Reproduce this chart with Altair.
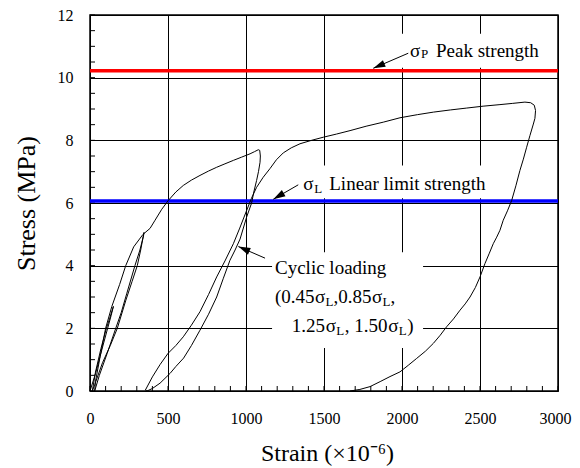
import math
import altair as alt
import pandas as pd

# ---------------- data ----------------
strain = [0, 35, 75, 113, 135, 150,
          145, 125, 105, 70, 35, 15,
          30, 80, 130, 175, 230, 270, 303, 325, 346,
          343, 320, 288, 235, 200, 165, 110, 60, 30,
          35, 65, 100, 140, 190, 229, 280, 340, 385, 417, 460, 502, 550, 598, 650, 705, 760, 812, 865, 919, 970, 1026, 1055, 1079,
          1088, 1092, 1090, 1080, 1068, 1050, 1036, 1004, 962, 930, 897, 855, 812, 760, 705, 650, 600, 550, 513, 449, 400, 365,
          355, 400, 450, 500, 550, 598, 650, 705, 760, 812, 865, 919, 960, 1004, 1035, 1068, 1110, 1154, 1195, 1239, 1290, 1346,
          1420, 1496, 1580, 1667, 1770, 1880, 1987, 2100, 2201, 2310, 2415, 2520, 2628, 2710, 2788, 2825, 2848, 2856, 2852, 2842,
          2820, 2799, 2778, 2756, 2730, 2703, 2676, 2649, 2628, 2607, 2585, 2560, 2532, 2500, 2470, 2436, 2405, 2372, 2330, 2286,
          2245, 2201, 2150, 2094, 2040, 1987, 1923, 1860, 1795, 1730, 1667]
stress = [0, 0.55, 1.3, 2.0, 2.4, 2.7,
          2.62, 2.3, 2.0, 1.35, 0.6, 0,
          0.2, 0.9, 1.45, 2.0, 2.9, 3.5, 4.0, 4.5, 5.06,
          4.95, 4.5, 4.0, 3.1, 2.5, 2.0, 1.2, 0.5, 0,
          0.3, 1.1, 2.0, 2.7, 3.4, 4.0, 4.6, 5.0, 5.19, 5.45, 5.8, 6.08, 6.35, 6.56, 6.73, 6.88, 7.02, 7.14, 7.25, 7.36, 7.46, 7.57, 7.64, 7.7,
          7.68, 7.5, 7.3, 7.0, 6.72, 6.35, 6.0, 5.55, 4.85, 4.5, 4.17, 3.6, 3.0, 2.45, 1.94, 1.45, 1.05, 0.78, 0.56, 0.25, 0.08, 0,
          0.03, 0.45, 0.85, 1.2, 1.45, 1.73, 2.1, 2.53, 3.08, 3.64, 4.15, 4.7, 5.2, 5.76, 6.15, 6.5, 6.82, 7.1, 7.38, 7.6, 7.76, 7.89,
          8.0, 8.1, 8.2, 8.31, 8.45, 8.58, 8.72, 8.82, 8.9, 8.97, 9.03, 9.09, 9.14, 9.18, 9.22, 9.2, 9.12, 8.95, 8.7, 8.52,
          8.15, 7.78, 7.4, 7.04, 6.55, 6.08, 5.75, 5.45, 5.13, 4.91, 4.7, 4.4, 4.07, 3.64, 3.3, 3.0, 2.78, 2.58, 2.3, 2.05,
          1.78, 1.52, 1.27, 1.04, 0.82, 0.61, 0.46, 0.3, 0.14, 0.05, 0]

x_ticks = [0, 500, 1000, 1500, 2000, 2500, 3000]
y_ticks = [0, 2, 4, 6, 8, 10, 12]
x_minor = list(range(0, 3001, 100))
y_minor = [i * 0.5 for i in range(25)]

peak_strength = 10.22
linear_limit = 6.06

# white label boxes (data units)
box_x1 = [1974, 1320, 1167]
box_x2 = [2955, 2596, 2135]
box_y1 = [10.32, 6.15, 1.37]
box_y2 = [11.4, 7.2, 4.43]

# arrows: tail -> head
arrow_tx = [2040, 1335, 1122]
arrow_ty = [10.78, 6.58, 4.24]
arrow_hx = [1816, 1175, 951]
arrow_hy = [10.3, 6.12, 4.61]

# ---------------- layout ----------------
W, H = 468, 376
SX = W / 3000.0
SY = H / 12.0
FONT = "Liberation Serif"

# text segments: (text, anchor_x, anchor_y(baseline), dx_px, dy_px, size)
segments = [
    ("σ", 2051, 10.67, 0, 0, 19),
    ("P", 2051, 10.67, 11, 1, 13),
    ("Peak strength", 2051, 10.67, 26, 0, 19),
    ("σ", 1367, 6.40, 0, 0, 19),
    ("L", 1367, 6.40, 11, 3, 13),
    ("Linear limit strength", 1367, 6.40, 26, 0, 19),
    ("Cyclic loading", 1186, 3.72, 0, 0, 19),
    ("(0.45", 1186, 2.80, 0, 0, 19),
    ("σ", 1186, 2.80, 40, 0, 19),
    ("L", 1186, 2.80, 50.5, 3, 13),
    (",0.85", 1186, 2.80, 58.5, 0, 19),
    ("σ", 1186, 2.80, 97, 0, 19),
    ("L", 1186, 2.80, 107.5, 3, 13),
    (",", 1186, 2.80, 115.5, 0, 19),
    ("1.25", 1293, 1.87, 0, 0, 19),
    ("σ", 1293, 1.87, 34, 0, 19),
    ("L", 1293, 1.87, 44.5, 3, 13),
    (", 1.50", 1293, 1.87, 53, 0, 19),
    ("σ", 1293, 1.87, 96.5, 0, 19),
    ("L", 1293, 1.87, 107, 3, 13),
    (")", 1293, 1.87, 115.5, 0, 19),
]

text_df = pd.DataFrame({
    "t": [s[0] for s in segments],
    "x": [s[1] + s[3] / SX for s in segments],
    "y": [s[2] - s[4] / SY for s in segments],
    "size": [s[5] for s in segments],
})

curve_df = pd.DataFrame({"x": strain, "y": stress, "i": list(range(len(strain)))})
box_df = pd.DataFrame({"x": box_x1, "x2": box_x2, "y": box_y1, "y2": box_y2})
arrow_df = pd.DataFrame({"x": arrow_tx, "y": arrow_ty, "x2": arrow_hx, "y2": arrow_hy})
arrow_df["angle"] = [
    math.degrees(math.atan2((hx - tx) * SX, (hy - ty) * SY)) % 360
    for tx, ty, hx, hy in zip(arrow_tx, arrow_ty, arrow_hx, arrow_hy)
]
head_df = pd.DataFrame({"x": arrow_hx, "y": arrow_hy, "angle": arrow_df["angle"]})
hl_df = pd.DataFrame({"y": [peak_strength, linear_limit], "c": ["red", "blue"]})
xm_df = pd.DataFrame({"x": x_minor})
ym_df = pd.DataFrame({"y": y_minor})

xaxis = alt.Axis(values=x_ticks, format="d", grid=True, ticks=False, domain=False,
                 labelFlush=False, labelOverlap=False,
                 labelOffset={"condition": {"test": "datum.value == 3000", "value": -3}, "value": 0},
                 gridColor="black", gridWidth=1, gridOpacity=1,
                 labelFont=FONT, labelFontSize=16, labelColor="black", labelPadding=19,
                 title="Strain (×10⁻⁶)", titleFont=FONT, titleFontSize=24,
                 titleFontWeight="normal", titleColor="black",
                 titleX=237, titleY=62, titleBaseline="middle", titleAlign="center")
yaxis = alt.Axis(values=y_ticks, format="d", grid=True, ticks=False, domain=False,
                 labelFlush=False, labelOverlap=False,
                 gridColor="black", gridWidth=1, gridOpacity=1,
                 labelFont=FONT, labelFontSize=16, labelColor="black", labelPadding=17,
                 title="Stress (MPa)", titleFont=FONT, titleFontSize=26,
                 titleFontWeight="normal", titleColor="black",
                 titleX=-64, titleY=188, titleAngle=270,
                 titleBaseline="middle", titleAlign="center")
xscale = alt.Scale(domain=[0, 3000], nice=False, zero=False)
yscale = alt.Scale(domain=[0, 12], nice=False, zero=False)


def X(f="x"):
    return alt.X(f + ":Q", scale=xscale, axis=xaxis)


def Y(f="y"):
    return alt.Y(f + ":Q", scale=yscale, axis=yaxis)


boxes = alt.Chart(box_df).mark_rect(color="white").encode(
    x=X(), x2="x2:Q", y=Y(), y2="y2:Q")

ymin = alt.Chart(ym_df).mark_rule(color="black", strokeWidth=1).encode(
    y=Y(), x=alt.value(0), x2=alt.value(5))
xmin = alt.Chart(xm_df).mark_rule(color="black", strokeWidth=1).encode(
    x=X(), y=alt.value(H), y2=alt.value(H - 5))

hlines = alt.Chart(hl_df).mark_rule(strokeWidth=3.5).encode(
    y=Y(), color=alt.Color("c:N", scale=None))

curve = alt.Chart(curve_df).mark_line(color="black", strokeWidth=1).encode(
    x=X(), y=Y(), order="i:Q")

texts = alt.Chart(text_df).mark_text(font=FONT, align="left", baseline="alphabetic",
                                     color="black").encode(
    x=X(), y=Y(), text="t:N", size=alt.Size("size:Q", scale=None))

arrow_lines = alt.Chart(arrow_df).mark_rule(color="black", strokeWidth=1).encode(
    x=X(), y=Y(), x2="x2:Q", y2="y2:Q")

heads = alt.Chart(head_df).mark_point(
    shape="M0,0L-0.3,1L0.3,1Z", filled=True, color="black", opacity=1, size=576,
    strokeWidth=0).encode(
    x=X(), y=Y(), angle=alt.Angle("angle:Q", scale=None))

chart = alt.layer(boxes, ymin, xmin, hlines, curve, texts, arrow_lines, heads).properties(
    width=W, height=H,
    autosize=alt.AutoSizeParams(type="none"),
    padding={"left": 82, "top": 7, "right": 14, "bottom": 77},
).configure_view(stroke="black", strokeWidth=1.5)

chart.save("out.html", embed_options={"renderer": "svg", "actions": False})
